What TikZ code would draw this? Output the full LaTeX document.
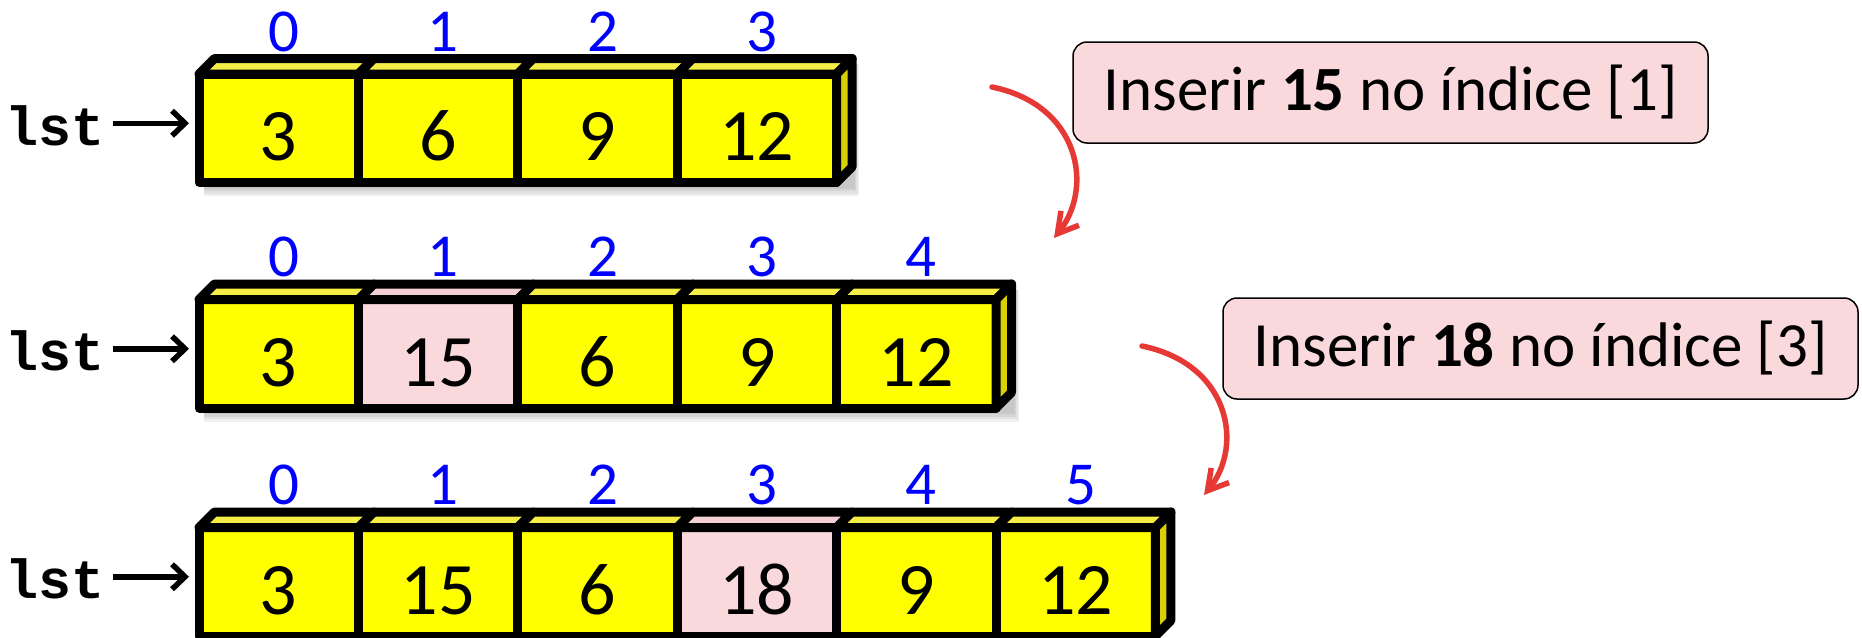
\documentclass[tikz,border=0pt]{standalone}
\usepackage{fontspec}
\setmainfont{Carlito}
\newfontfamily\lstfont{Liberation Mono}
\usetikzlibrary{arrows.meta}
\definecolor{cellyellow}{RGB}{255,255,0}
\definecolor{topyellow}{RGB}{244,238,70}
\definecolor{sideyellow}{RGB}{216,208,0}
\definecolor{cellpink}{RGB}{249,217,220}
\definecolor{toppink}{RGB}{243,208,212}
\definecolor{arrowred}{RGB}{230,57,53}
\definecolor{idxblue}{RGB}{0,0,255}
\tikzset{
  cell/.style={draw=black, line width=9pt, line join=round, minimum width=159.4pt,
    minimum height=108.5pt, inner sep=0pt, outer sep=0pt, text height=64.5pt, text depth=0pt,
    font=\fontsize{74}{74}\selectfont},
  face/.style={draw=black, line width=9pt, line join=round},
  idx/.style={anchor=base, inner sep=0pt, text=idxblue, font=\fontsize{61}{61}\selectfont},
  lstlabel/.style={anchor=base east, inner sep=0pt, font=\lstfont\bfseries\fontsize{55}{55}\selectfont},
  lstarrow/.style={line width=5.5pt, -{Straight Barb[length=13pt,width=25pt]}, shorten <=8pt, shorten >=10pt},
  callout/.style={draw=black, line width=1.5pt, rounded corners=14pt, fill=cellpink,
    minimum width=635pt, minimum height=101pt, inner sep=0pt, font=\fontsize{63}{63}\selectfont},
  redarrow/.style={draw=arrowred, line width=5.5pt, line cap=round, -{Straight Barb[length=20pt,width=23pt]}},
  shadowstrip/.style={fill=black, opacity=0.06}
}
\begin{document}
\begin{tikzpicture}[x=1pt,y=-1pt]
\useasboundingbox (0,0) rectangle (1862,637);
% shadows
\foreach \T/\R in {74/852, 299.5/1012} {
  \foreach \k in {1,...,4}
    \fill[shadowstrip] (204,\T-10) rectangle (\R+1+1.5*\k,\T+112+2.5*\k);
}
% ---- row 1 ----
\foreach \v/\f/\t [count=\i from 0] in {3/cellyellow/topyellow, 6/cellyellow/topyellow, 9/cellyellow/topyellow, 12/cellyellow/topyellow} {
  \node[cell, fill=\f] (r1c\i) at (278.7+159.4*\i, 128.25) {\v};
  \filldraw[face, fill=\t] (r1c\i.north west) -- ++(15.5,-15.5) -- ([shift={(15.5,-15.5)}]r1c\i.north east) -- (r1c\i.north east) -- cycle;
  \node[idx] (r1i\i) at (283.7+159.4*\i, 51) {\i};
}
\filldraw[face, fill=sideyellow] (r1c3.north east) -- ++(15.5,-15.5) -- ++(0,108.5) -- (r1c3.south east) -- cycle;
\node[lstlabel] (lst1) at (105,145) {lst};
\draw[lstarrow] ([yshift=5pt]lst1.east |- r1c0.west) -- ([yshift=5pt]r1c0.west);
% ---- row 2 ----
\foreach \v/\f/\t [count=\i from 0] in {3/cellyellow/topyellow, 15/cellpink/toppink, 6/cellyellow/topyellow, 9/cellyellow/topyellow, 12/cellyellow/topyellow} {
  \node[cell, fill=\f] (r2c\i) at (278.7+159.4*\i, 353.75) {\v};
  \filldraw[face, fill=\t] (r2c\i.north west) -- ++(15.5,-15.5) -- ([shift={(15.5,-15.5)}]r2c\i.north east) -- (r2c\i.north east) -- cycle;
  \node[idx] (r2i\i) at (283.7+159.4*\i, 276.5) {\i};
}
\filldraw[face, fill=sideyellow] (r2c4.north east) -- ++(15.5,-15.5) -- ++(0,108.5) -- (r2c4.south east) -- cycle;
\node[lstlabel] (lst2) at (105,370.5) {lst};
\draw[lstarrow] ([yshift=5pt]lst2.east |- r2c0.west) -- ([yshift=5pt]r2c0.west);
% ---- row 3 ----
\foreach \v/\f/\t [count=\i from 0] in {3/cellyellow/topyellow, 15/cellyellow/topyellow, 6/cellyellow/topyellow, 18/cellpink/toppink, 9/cellyellow/topyellow, 12/cellyellow/topyellow} {
  \node[cell, fill=\f] (r3c\i) at (278.7+159.4*\i, 581.75) {\v};
  \filldraw[face, fill=\t] (r3c\i.north west) -- ++(15.5,-15.5) -- ([shift={(15.5,-15.5)}]r3c\i.north east) -- (r3c\i.north east) -- cycle;
  \node[idx] (r3i\i) at (283.7+159.4*\i, 504.5) {\i};
}
\filldraw[face, fill=sideyellow] (r3c5.north east) -- ++(15.5,-15.5) -- ++(0,108.5) -- (r3c5.south east) -- cycle;
\node[lstlabel] (lst3) at (105,598.5) {lst};
\draw[lstarrow] ([yshift=5pt]lst3.east |- r3c0.west) -- ([yshift=5pt]r3c0.west);
% ---- callouts ----
\node[callout] (ins1) at (1390.5,92.5) {Inserir \textbf{15} no índice [1]};
\node[callout] (ins2) at (1540.5,348.5) {Inserir \textbf{18} no índice [3]};
% ---- red arrows ----
\coordinate (a1s) at (992,87);
\coordinate (a1e) at (1054,238);
\draw[redarrow] (a1s) .. controls (1080,105) and (1094,188) .. (a1e);
\coordinate (a2s) at (1142,346);
\coordinate (a2e) at (1204,495);
\draw[redarrow] (a2s) .. controls (1230,364) and (1244,446) .. (a2e);
\end{tikzpicture}
\end{document}
